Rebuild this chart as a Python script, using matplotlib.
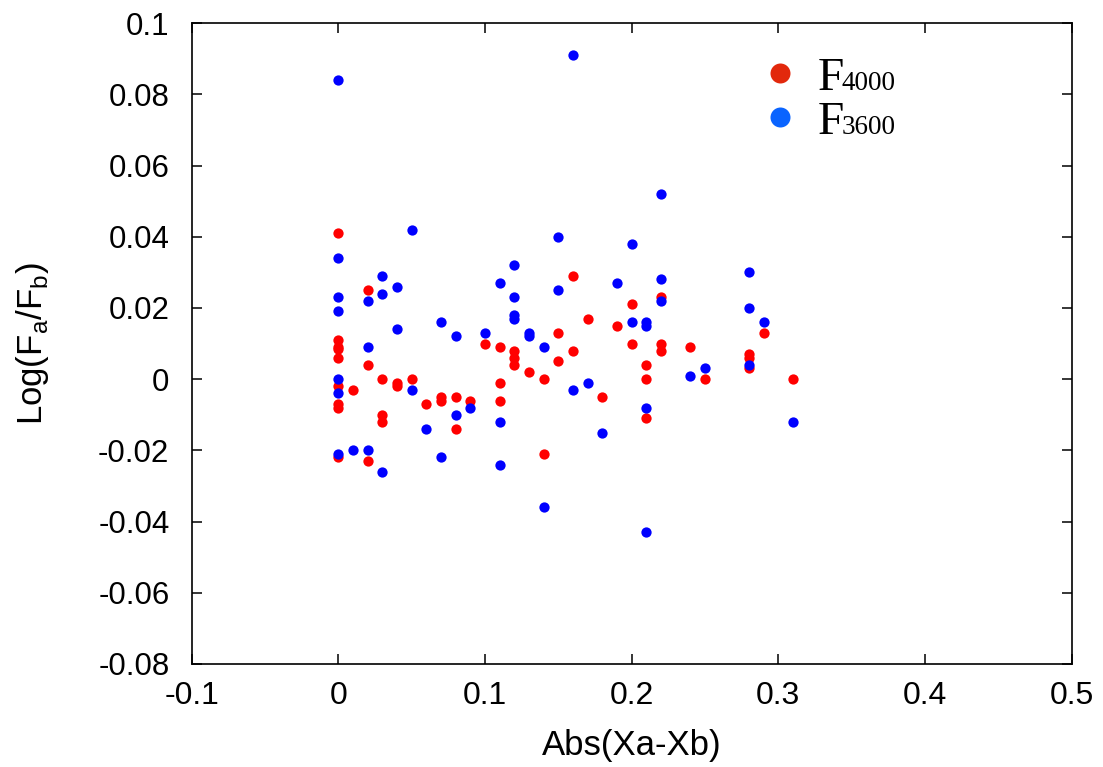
import numpy as np
import matplotlib
matplotlib.use("Agg")
import matplotlib.pyplot as plt

plt.rcParams['font.family'] = ['Liberation Sans', 'DejaVu Sans']
plt.rcParams['mathtext.fontset'] = 'custom'
plt.rcParams['mathtext.rm'] = 'Liberation Sans'

# F4000 (red)
x_4000 = [0, 0, 0, 0, 0, 0, 0, 0, 0,
          0.01, 0.02, 0.02, 0.02, 0.03, 0.03, 0.03, 0.04, 0.04, 0.05, 0.06,
          0.07, 0.07, 0.08, 0.08, 0.09, 0.10, 0.11, 0.11, 0.11,
          0.12, 0.12, 0.12, 0.13, 0.14, 0.14, 0.15, 0.15, 0.16, 0.16, 0.17,
          0.18, 0.19, 0.20, 0.20, 0.21, 0.21, 0.21, 0.22, 0.22, 0.22,
          0.24, 0.25, 0.28, 0.28, 0.28, 0.29, 0.31]
y_4000 = [0.041, 0.011, 0.009, 0.0085, 0.006, -0.002, -0.007, -0.008, -0.022,
          -0.003, 0.025, 0.004, -0.023, 0.0, -0.010, -0.012, -0.001, -0.002, 0.0, -0.007,
          -0.005, -0.006, -0.005, -0.014, -0.006, 0.010, 0.009, -0.001, -0.006,
          0.008, 0.006, 0.004, 0.002, 0.0, -0.021, 0.013, 0.005, 0.029, 0.008, 0.017,
          -0.005, 0.015, 0.021, 0.010, 0.004, 0.0, -0.011, 0.023, 0.010, 0.008,
          0.009, 0.0, 0.007, 0.006, 0.003, 0.013, 0.0]

# F3600 (blue)
x_3600 = [0, 0, 0, 0, 0, 0, 0,
          0.01, 0.02, 0.02, 0.02, 0.03, 0.03, 0.03, 0.04, 0.04, 0.05, 0.05, 0.06,
          0.07, 0.07, 0.08, 0.08, 0.09, 0.10, 0.11, 0.11, 0.11,
          0.12, 0.12, 0.12, 0.12, 0.13, 0.13, 0.14, 0.14, 0.15, 0.15, 0.16, 0.16,
          0.17, 0.18, 0.19, 0.20, 0.20, 0.21, 0.21, 0.21, 0.21, 0.22, 0.22, 0.22,
          0.24, 0.25, 0.28, 0.28, 0.28, 0.29, 0.31]
y_3600 = [0.084, 0.034, 0.023, 0.019, 0.0, -0.004, -0.021,
          -0.020, 0.022, 0.009, -0.020, 0.029, 0.024, -0.026, 0.026, 0.014, 0.042, -0.003, -0.014,
          0.016, -0.022, 0.012, -0.010, -0.008, 0.013, 0.027, -0.012, -0.024,
          0.032, 0.023, 0.018, 0.017, 0.013, 0.012, 0.009, -0.036, 0.040, 0.025, 0.091, -0.003,
          -0.001, -0.015, 0.027, 0.038, 0.016, 0.016, 0.015, -0.008, -0.043, 0.052, 0.028, 0.022,
          0.001, 0.003, 0.030, 0.020, 0.004, 0.016, -0.012]

xticks = [-0.1, 0, 0.1, 0.2, 0.3, 0.4, 0.5]
xticklabels = ['-0.1', '0', '0.1', '0.2', '0.3', '0.4', '0.5']
yticks = [-0.08, -0.06, -0.04, -0.02, 0, 0.02, 0.04, 0.06, 0.08, 0.1]
yticklabels = ['-0.08', '-0.06', '-0.04', '-0.02', '0', '0.02', '0.04', '0.06', '0.08', '0.1']

fig = plt.figure(figsize=(11.03, 7.67), dpi=100)
ax = fig.add_axes([0.1738, 0.1343, 0.9715 - 0.1738, 0.9699 - 0.1343])

ax.plot(x_4000, y_4000, 'o', color='#ff0000', markersize=7.4, markeredgewidth=0, zorder=3)
ax.plot(x_3600, y_3600, 'o', color='#0000ff', markersize=7.4, markeredgewidth=0, zorder=4)

ax.set_xlim(-0.1, 0.5)
ax.set_ylim(-0.08, 0.1)
ax.set_xticks(xticks)
ax.set_xticklabels(xticklabels, fontsize=23)
ax.set_yticks(yticks)
ax.set_yticklabels(yticklabels, fontsize=22.5)
ax.tick_params(axis='both', direction='in', length=7, width=1.1, top=True, right=True)
ax.tick_params(axis='x', pad=12)
ax.tick_params(axis='y', pad=16)
for s in ax.spines.values():
    s.set_linewidth(1.2)

ax.set_xlabel('Abs(Xa-Xb)', fontsize=25, labelpad=13)
ax.set_ylabel(r'Log(F$_\mathregular{a}$/F$_\mathregular{b}$)', fontsize=25, labelpad=34)

# legend drawn by hand
serif = ['Liberation Serif', 'DejaVu Serif']
ax.plot([0.6686], [0.9226], 'o', color='#e2280c', markersize=14.4, markeredgewidth=0,
        transform=ax.transAxes, clip_on=False)
ax.plot([0.6686], [0.8535], 'o', color='#0a64ff', markersize=14.4, markeredgewidth=0,
        transform=ax.transAxes, clip_on=False)
ax.text(0.7118, 0.8956, 'F', fontsize=34, family=serif, va='baseline', transform=ax.transAxes)
ax.text(0.739, 0.8956, '4000', fontsize=19.5, family=serif, va='baseline', transform=ax.transAxes)
ax.text(0.7118, 0.827, 'F', fontsize=34, family=serif, va='baseline', transform=ax.transAxes)
ax.text(0.739, 0.827, '3600', fontsize=19.5, family=serif, va='baseline', transform=ax.transAxes)

fig.savefig('out.png', dpi=100)
